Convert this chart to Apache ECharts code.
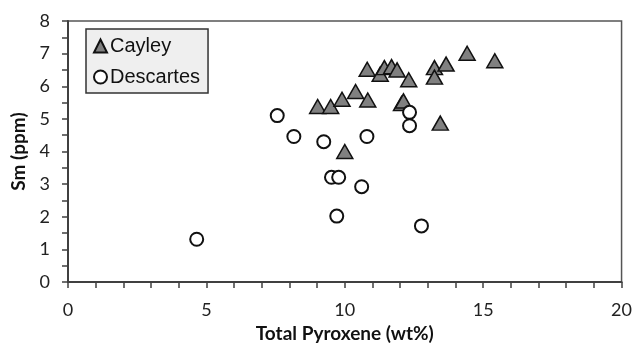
<!DOCTYPE html>
<html>
<head>
<meta charset="utf-8">
<script src="https://cdn.jsdelivr.net/npm/echarts@6/dist/echarts.min.js"></script>
<style>
  html, body { margin: 0; padding: 0; background: #fff; }
  #chart { width: 635px; height: 350px; }
</style>
</head>
<body>
<div id="chart"></div>
<script>
// Cayley samples
const cayleyX = [9.02, 9.49, 9.9, 10.39, 10.83, 10.81, 11.28, 11.43, 11.69, 11.89, 12.31, 12.05, 12.12, 13.24, 13.24, 13.66, 14.42, 15.42, 13.45, 10.0]
const cayleyY = [5.38, 5.38, 5.6, 5.84, 5.58, 6.52, 6.37, 6.57, 6.6, 6.5, 6.2, 5.47, 5.55, 6.57, 6.28, 6.68, 7.01, 6.78, 4.87, 4.0]

// Descartes samples
const descartesX = [4.65, 7.56, 8.16, 9.24, 10.8, 12.34, 12.34, 9.52, 9.78, 10.61, 9.71, 12.77]
const descartesY = [1.31, 5.10, 4.46, 4.30, 4.46, 5.2, 4.79, 3.21, 3.21, 2.92, 2.02, 1.72]

const seriesNames = ['Cayley', 'Descartes']
const xTitle = 'Total Pyroxene (wt%)'
const yTitle = 'Sm (ppm)'

function pairs(xs, ys) {
  return xs.map((x, i) => [x, ys[i]])
}

const chart = echarts.init(document.getElementById('chart'))

const axisFont = { fontFamily: 'Lato', fontSize: 18, color: '#222' }
const titleFont = { fontFamily: 'Lato', fontSize: 19, fontWeight: 'bold', color: '#111' }

const option = {
  animation: false,
  grid: {
    left: 68,
    right: 12,
    top: 21,
    bottom: 68,
    show: true,
    borderColor: '#555',
    borderWidth: 1.5,
    backgroundColor: '#fff'
  },
  legend: {
    data: seriesNames,
    orient: 'vertical',
    left: 86,
    top: 29,
    padding: [7, 8, 6, 7],
    itemGap: 11,
    itemWidth: 13,
    itemHeight: 13,
    backgroundColor: '#efefef',
    borderColor: '#333',
    borderWidth: 1.5,
    borderRadius: 0,
    textStyle: {
      fontFamily: 'Liberation Sans',
      fontSize: 20,
      color: '#111',
      padding: [0, 0, 0, -2]
    }
  },
  xAxis: {
    type: 'value',
    min: 0,
    max: 20,
    interval: 5,
    name: xTitle,
    nameLocation: 'middle',
    nameGap: 42,
    nameTextStyle: titleFont,
    axisLine: { show: true, onZero: false, lineStyle: { color: '#404040', width: 2 } },
    axisTick: { show: true, length: 6, lineStyle: { color: '#404040', width: 1.5 } },
    minorTick: { show: true, splitNumber: 5, length: 6, lineStyle: { color: '#404040', width: 1.5 } },
    axisLabel: { ...axisFont, margin: 19 },
    splitLine: { show: false },
    minorSplitLine: { show: false }
  },
  yAxis: {
    type: 'value',
    min: 0,
    max: 8,
    interval: 1,
    name: yTitle,
    nameLocation: 'middle',
    nameGap: 35,
    nameTextStyle: titleFont,
    axisLine: { show: true, onZero: false, lineStyle: { color: '#404040', width: 2 } },
    axisTick: { show: true, length: 6, lineStyle: { color: '#404040', width: 1.5 } },
    minorTick: { show: true, splitNumber: 2, length: 6, lineStyle: { color: '#404040', width: 1.5 } },
    axisLabel: { ...axisFont, margin: 18 },
    splitLine: { show: false },
    minorSplitLine: { show: false }
  },
  series: [
    {
      name: seriesNames[0],
      type: 'scatter',
      symbol: 'triangle',
      symbolSize: [16, 14],
      itemStyle: { color: '#808080', borderColor: '#111', borderWidth: 1.5, opacity: 1 },
      data: pairs(cayleyX, cayleyY)
    },
    {
      name: seriesNames[1],
      type: 'scatter',
      symbol: 'circle',
      symbolSize: 13,
      itemStyle: { color: '#fff', borderColor: '#111', borderWidth: 2, opacity: 1 },
      data: pairs(descartesX, descartesY)
    }
  ]
}

chart.setOption(option)
</script>
</body>
</html>
